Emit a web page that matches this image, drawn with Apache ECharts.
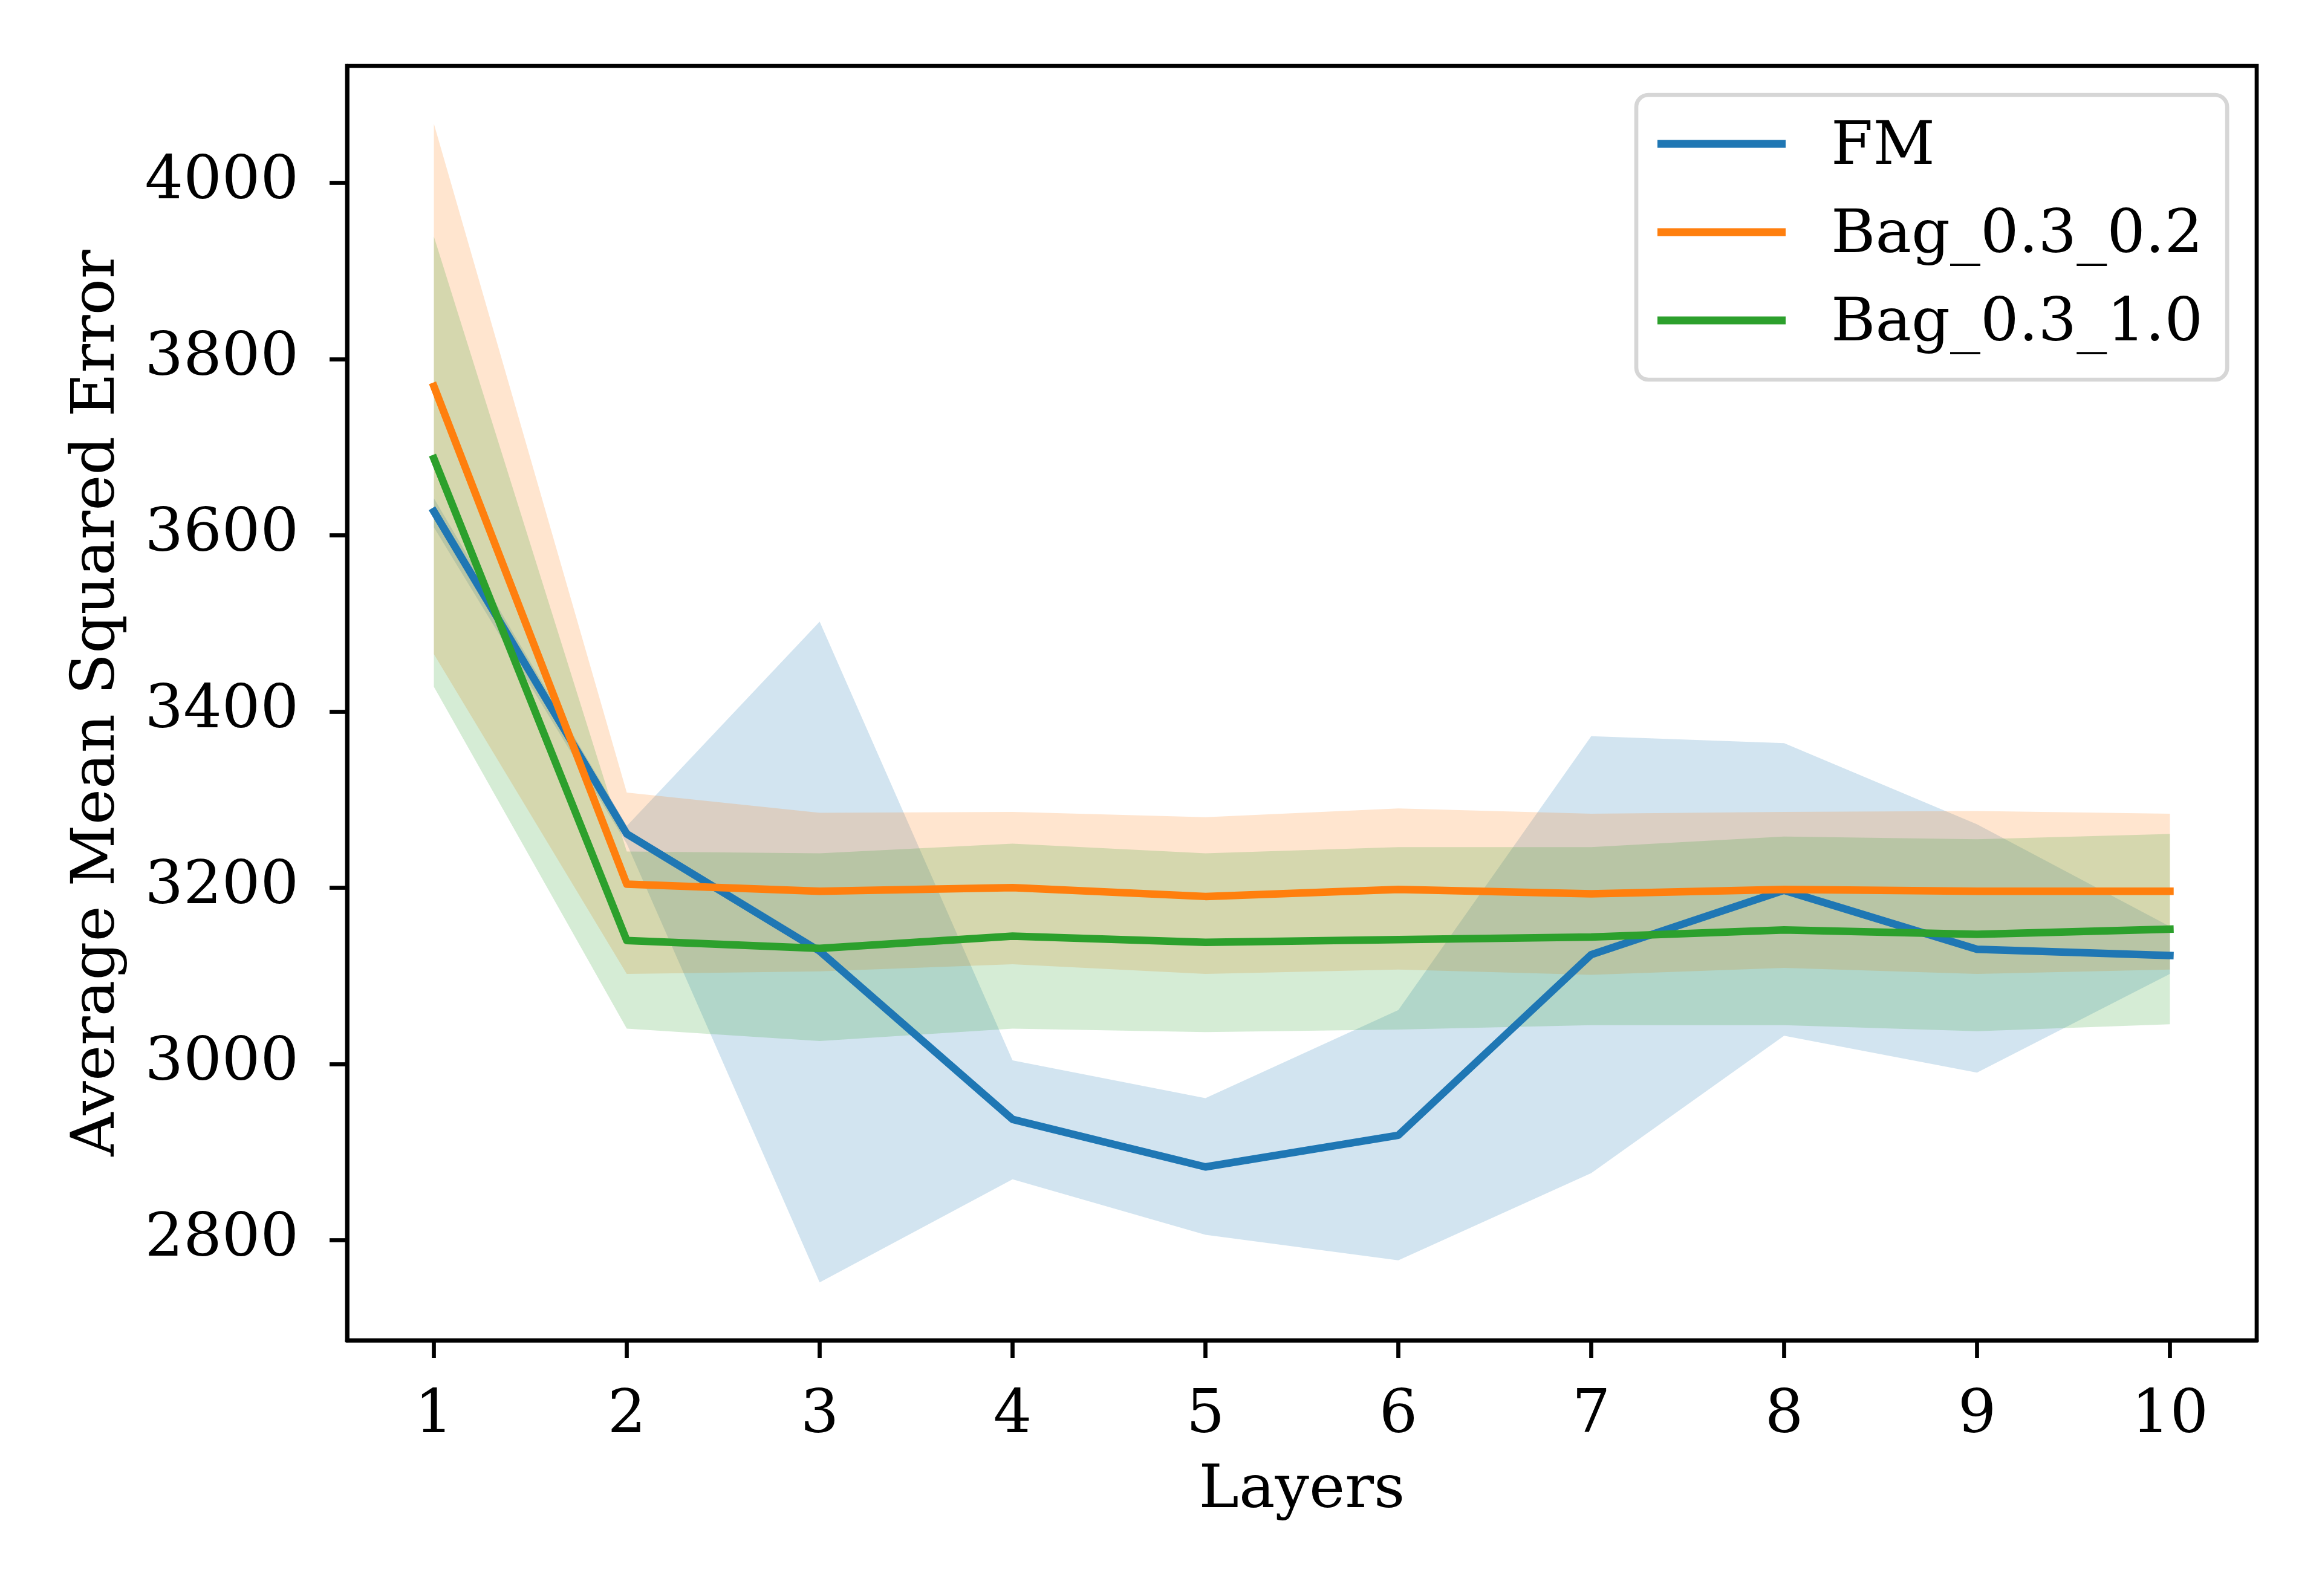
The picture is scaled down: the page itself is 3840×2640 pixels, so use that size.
<!DOCTYPE html>
<html>
<head>
<meta charset="utf-8">
<script src="https://cdn.jsdelivr.net/npm/echarts@6/dist/echarts.min.js"></script>
<style>
html, body { margin: 0; padding: 0; background: #fff; }
#chart { width: 3840px; height: 2640px; }
</style>
</head>
<body>
<div id="chart"></div>
<script>
// ---- data ----
const layers = [1, 2, 3, 4, 5, 6, 7, 8, 9, 10];

const fmMean  = [3627, 3261, 3128, 2937, 2883, 2919, 3124, 3197, 3130, 3123];
const fmUpper = [3642, 3270, 3502, 3004, 2961, 3061, 3372, 3364, 3272, 3156];
const fmLower = [3609, 3250, 2752, 2869, 2806, 2777, 2876, 3032, 2990, 3102];

const bag02Mean  = [3769, 3204, 3196, 3200, 3190, 3198, 3193, 3198, 3196, 3196];
const bag02Upper = [4067, 3308, 3285, 3286, 3280, 3290, 3284, 3286, 3287, 3284];
const bag02Lower = [3465, 3102, 3105, 3113, 3102, 3107, 3101, 3109, 3102, 3107];

const bag10Mean  = [3687, 3140, 3131, 3145, 3138, 3141, 3144, 3152, 3147, 3153];
const bag10Upper = [3939, 3241, 3239, 3250, 3239, 3246, 3246, 3258, 3255, 3261];
const bag10Lower = [3428, 3040, 3026, 3040, 3036, 3039, 3044, 3044, 3037, 3045];

const seriesNames = ['FM', 'Bag_0.3_0.2', 'Bag_0.3_1.0'];
const yTicks = [2800, 3000, 3200, 3400, 3600, 3800, 4000];

// ---- axis extents (matplotlib-like 5% margins) ----
const allY = [].concat(fmUpper, fmLower, bag02Upper, bag02Lower, bag10Upper, bag10Lower);
const yLo = Math.min.apply(null, allY), yHi = Math.max.apply(null, allY);
const yPad = 0.05 * (yHi - yLo);
const xPad = 0.05 * (layers[layers.length - 1] - layers[0]);

const FONT = 'DejaVu Serif';
const colors = ['#1f77b4', '#ff7f0e', '#2ca02c'];

function bandSeries(lower, upper, color) {
  return {
    type: 'custom',
    z: 1,
    silent: true,
    data: layers.map((x, i) => [x, lower[i], upper[i]]),
    encode: { x: 0, y: [1, 2] },
    renderItem: function (params, api) {
      if (params.dataIndex !== 0) return null;
      const pts = [];
      for (let i = 0; i < layers.length; i++) pts.push(api.coord([layers[i], upper[i]]));
      for (let i = layers.length - 1; i >= 0; i--) pts.push(api.coord([layers[i], lower[i]]));
      return { type: 'polygon', shape: { points: pts }, style: { fill: color, opacity: 0.2 } };
    }
  };
}

function lineSeries(name, mean, color) {
  return {
    name: name,
    type: 'line',
    z: 3,
    symbol: 'none',
    data: layers.map((x, i) => [x, mean[i]]),
    itemStyle: { color: color },
    lineStyle: { color: color, width: 12.5, cap: 'square', join: 'round' }
  };
}

const chart = echarts.init(document.getElementById('chart'), null, { renderer: 'canvas', devicePixelRatio: 1 });
chart.setOption({
  animation: false,
  backgroundColor: '#ffffff',
  grid: {
    left: 574, right: 108, top: 109, bottom: 423,
    show: true, borderColor: '#000', borderWidth: 6.7, backgroundColor: 'transparent'
  },
  legend: {
    data: seriesNames,
    orient: 'vertical',
    left: 2706, top: 157,
    padding: [24, 40, 41, 35],
    itemGap: 32,
    itemWidth: 212,
    itemHeight: 13,
    icon: 'rect',
    borderColor: 'rgba(204,204,204,0.8)',
    borderWidth: 6.7,
    borderRadius: 20,
    backgroundColor: 'rgba(255,255,255,0.8)',
    formatter: '{t|{name}}',
    textStyle: {
      fontFamily: FONT, fontSize: 100, lineHeight: 100, color: '#000', padding: [0, 0, 0, 70],
      rich: { t: { fontFamily: FONT, fontSize: 100, lineHeight: 100, color: '#000', padding: [14, 0, 0, 0] } }
    }
  },
  xAxis: {
    type: 'value',
    min: layers[0] - xPad,
    max: layers[layers.length - 1] + xPad,
    name: 'Layers',
    nameLocation: 'middle',
    nameGap: 200,
    nameTextStyle: { fontFamily: FONT, fontSize: 100, color: '#000' },
    axisLine: { show: true, onZero: false, lineStyle: { color: '#000', width: 6.7 } },
    axisTick: { show: true, length: 29, lineStyle: { color: '#000', width: 6.7 }, customValues: layers },
    axisLabel: { fontFamily: FONT, fontSize: 100, color: '#000', margin: 76, customValues: layers },
    splitLine: { show: false }
  },
  yAxis: {
    type: 'value',
    min: yLo - yPad,
    max: yHi + yPad,
    name: 'Average Mean Squared Error',
    nameLocation: 'middle',
    nameGap: 362,
    nameRotate: 90,
    nameTextStyle: { fontFamily: FONT, fontSize: 100, color: '#000' },
    axisLine: { show: true, onZero: false, lineStyle: { color: '#000', width: 6.7 } },
    axisTick: { show: true, length: 29, lineStyle: { color: '#000', width: 6.7 }, customValues: yTicks },
    axisLabel: {
      fontFamily: FONT, fontSize: 100, color: '#000', margin: 80, customValues: yTicks,
      formatter: function (v) { return String(Math.round(v)); }
    },
    splitLine: { show: false }
  },
  series: [
    bandSeries(fmLower, fmUpper, colors[0]),
    bandSeries(bag02Lower, bag02Upper, colors[1]),
    bandSeries(bag10Lower, bag10Upper, colors[2]),
    lineSeries(seriesNames[0], fmMean, colors[0]),
    lineSeries(seriesNames[1], bag02Mean, colors[1]),
    lineSeries(seriesNames[2], bag10Mean, colors[2])
  ]
});
</script>
</body>
</html>
